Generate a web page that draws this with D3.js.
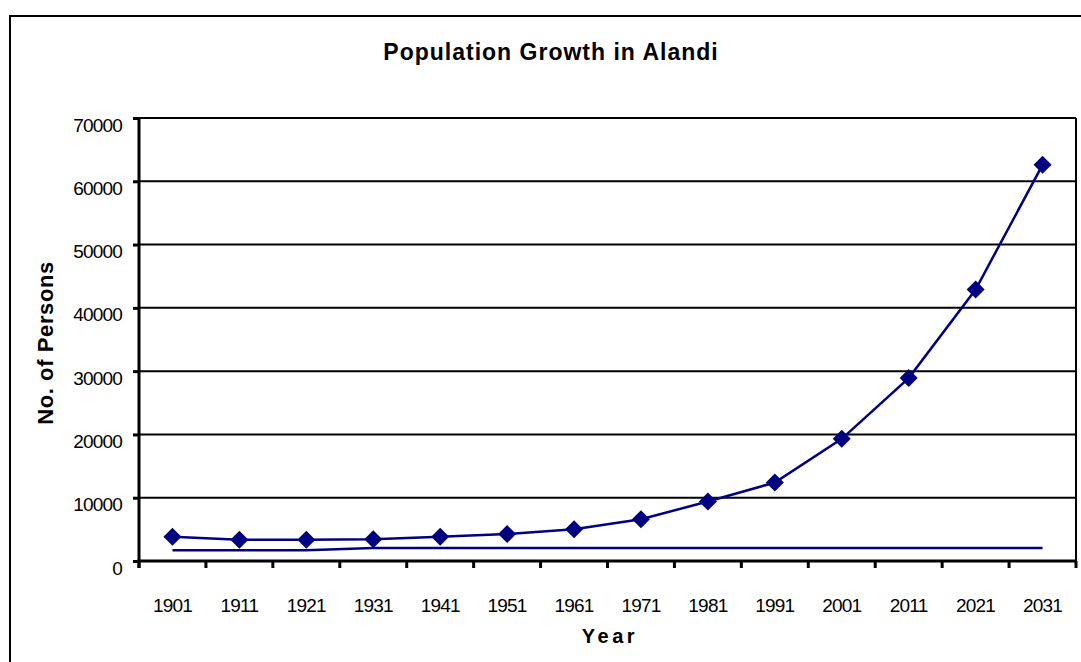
<!DOCTYPE html>
<html>
<head>
<meta charset="utf-8">
<script src="https://cdn.jsdelivr.net/npm/d3@7"></script>
<style>
  html, body { margin: 0; padding: 0; background: #fff; }
  svg { display: block; }
  text { font-family: "Liberation Sans", Arial, sans-serif; fill: #000; }
</style>
</head>
<body>
<svg id="chart" width="1081" height="662"></svg>
<script>
const years = ["1901","1911","1921","1931","1941","1951","1961","1971","1981","1991","2001","2011","2021","2031"];
const population = [3850, 3350, 3350, 3450, 3850, 4250, 5000, 6600, 9400, 12400, 19300, 28900, 42900, 62600];
const baseline = [1700, 1700, 1700, 2050, 2050, 2050, 2050, 2050, 2050, 2050, 2050, 2050, 2050, 2050];
const yTicks = [0, 10000, 20000, 30000, 40000, 50000, 60000, 70000];
const titleText = "Population Growth in Alandi";
const xTitle = "Year";
const yTitle = "No. of Persons";

const svg = d3.select("#chart");
const W = 1081, H = 662;
const plot = { left: 139, right: 1076, top: 118, bottom: 561 };
const navy = "#000080";

// outer chart border (extends beyond the viewport on right/bottom)
svg.append("rect")
  .attr("x", 10).attr("y", 16)
  .attr("width", W + 20).attr("height", H + 20)
  .attr("fill", "#fff").attr("stroke", "#000").attr("stroke-width", 2);

const x = d3.scaleBand().domain(years).range([plot.left, plot.right]).padding(0);
const y = d3.scaleLinear().domain([0, 70000]).range([plot.bottom, plot.top]);

// gridlines
svg.append("g").selectAll("line").data(yTicks.filter(d => d > 0)).join("line")
  .attr("x1", plot.left).attr("x2", plot.right)
  .attr("y1", d => y(d)).attr("y2", d => y(d))
  .attr("stroke", "#000").attr("stroke-width", 2);

// right plot border
svg.append("line")
  .attr("x1", plot.right).attr("x2", plot.right)
  .attr("y1", plot.top).attr("y2", plot.bottom)
  .attr("stroke", "#000").attr("stroke-width", 2);

// y axis
const yAxis = svg.append("g")
  .attr("transform", `translate(${plot.left},0)`)
  .call(d3.axisLeft(y).tickValues(yTicks).tickFormat(d3.format("d")).tickSize(6).tickPadding(11));
yAxis.select(".domain").attr("stroke", "#000").attr("stroke-width", 3)
  .attr("d", `M0,${plot.top}V${plot.bottom + 7}`);
yAxis.selectAll(".tick line").attr("stroke", "#000").attr("stroke-width", 3);
yAxis.selectAll(".tick text")
  .attr("dy", "0.95em")
  .attr("y", -5)
  .style("font-family", "'Liberation Sans', Arial, sans-serif")
  .style("font-size", "19px").style("letter-spacing", "-0.8px");

// x axis: ticks between categories
const boundaries = years.map(d => x(d)).concat([plot.right]);
svg.append("line")
  .attr("x1", plot.left - 1.5).attr("x2", plot.right + 1)
  .attr("y1", plot.bottom).attr("y2", plot.bottom)
  .attr("stroke", "#000").attr("stroke-width", 3);
svg.append("g").selectAll("line").data(boundaries).join("line")
  .attr("x1", d => d).attr("x2", d => d)
  .attr("y1", plot.bottom).attr("y2", plot.bottom + 7)
  .attr("stroke", "#000").attr("stroke-width", 3);
svg.append("g").selectAll("text").data(years).join("text")
  .attr("x", d => x(d) + x.bandwidth() / 2)
  .attr("y", 612)
  .attr("text-anchor", "middle")
  .style("font-size", "19px").style("letter-spacing", "-0.8px")
  .text(d => d);

// lines
const line = d3.line()
  .x((d, i) => x(years[i]) + x.bandwidth() / 2)
  .y(d => y(d));

svg.append("path").datum(baseline)
  .attr("d", line).attr("fill", "none")
  .attr("stroke", navy).attr("stroke-width", 2.5);

svg.append("path").datum(population)
  .attr("d", line).attr("fill", "none")
  .attr("stroke", navy).attr("stroke-width", 2.5);

// diamond markers
svg.append("g").selectAll("path").data(population).join("path")
  .attr("transform", (d, i) => `translate(${x(years[i]) + x.bandwidth() / 2},${y(d)})`)
  .attr("d", "M0,-9L9,0L0,9L-9,0Z")
  .attr("fill", navy);

// titles
svg.append("text")
  .attr("x", 551).attr("y", 60)
  .attr("text-anchor", "middle")
  .style("font-size", "23px").style("font-weight", "bold").style("letter-spacing", "1px")
  .text(titleText);

svg.append("text")
  .attr("x", 610).attr("y", 643)
  .attr("text-anchor", "middle")
  .style("font-size", "20px").style("font-weight", "bold").style("letter-spacing", "3.5px")
  .text(xTitle);

svg.append("text")
  .attr("transform", "translate(53,343) rotate(-90)")
  .attr("text-anchor", "middle")
  .style("font-size", "22px").style("font-weight", "bold").style("letter-spacing", "0.6px")
  .text(yTitle);
</script>
</body>
</html>
